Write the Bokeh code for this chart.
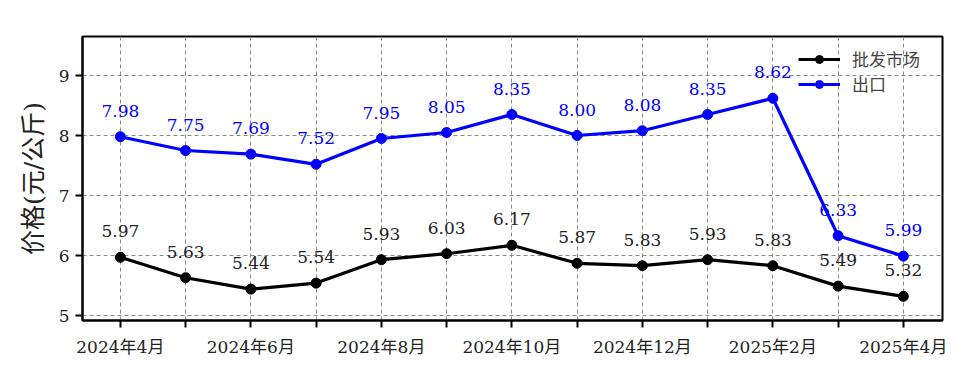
from bokeh.plotting import figure
from bokeh.models import FixedTicker, ColumnDataSource, Legend, LegendItem, Range1d
from bokeh.embed import file_html
from bokeh.resources import INLINE
from bokeh.core.properties import value

months = ["2024年4月", "2024年5月", "2024年6月", "2024年7月", "2024年8月", "2024年9月", "2024年10月",
          "2024年11月", "2024年12月", "2025年1月", "2025年2月", "2025年3月", "2025年4月"]
wholesale = [5.97, 5.63, 5.44, 5.54, 5.93, 6.03, 6.17, 5.87, 5.83, 5.93, 5.83, 5.49, 5.32]
export = [7.98, 7.75, 7.69, 7.52, 7.95, 8.05, 8.35, 8.00, 8.08, 8.35, 8.62, 6.33, 5.99]
series_names = ["批发市场", "出口"]
y_ticks = [5, 6, 7, 8, 9]

FONT = "'DejaVu Serif', 'Noto Sans CJK SC'"

x = list(range(len(months)))
p = figure(width=960, height=368, output_backend="svg", toolbar_location=None,
           x_range=Range1d(-0.58, 12.6), y_range=Range1d(4.917, 9.65),
           min_border_left=82, min_border_right=18, min_border_top=36, min_border_bottom=48)

src_w = ColumnDataSource(dict(x=x, y=wholesale, t=["%.2f" % v for v in wholesale]))
src_e = ColumnDataSource(dict(x=x, y=export, t=["%.2f" % v for v in export]))

lw = p.line("x", "y", source=src_w, line_color="black", line_width=3.2)
cw = p.scatter("x", "y", source=src_w, size=10, color="black")
le = p.line("x", "y", source=src_e, line_color="blue", line_width=3.2)
ce = p.scatter("x", "y", source=src_e, size=10, color="blue")

p.text("x", "y", text="t", source=src_w, text_align="center", text_baseline="alphabetic",
       y_offset=-26, text_font=value(FONT), text_font_size="17px", text_color="#222222")
p.text("x", "y", text="t", source=src_e, text_align="center", text_baseline="alphabetic",
       y_offset=-26, text_font=value(FONT), text_font_size="17px", text_color="blue")

p.xaxis.ticker = FixedTicker(ticks=x)
p.xaxis.major_label_overrides = {i: (months[i] if i % 2 == 0 else "") for i in x}
p.yaxis.ticker = FixedTicker(ticks=y_ticks)
p.xaxis.minor_tick_line_color = None
p.yaxis.minor_tick_line_color = None
for ax in (p.xaxis, p.yaxis):
    ax.major_label_text_font = FONT
    ax.major_label_text_font_size = "17px"
    ax.major_label_text_color = "#222222"
    ax.axis_line_width = 2
    ax.axis_line_color = "black"
    ax.major_tick_line_width = 2
    ax.major_tick_out = 7
    ax.major_tick_in = 0
    ax.major_label_standoff = 6
p.xaxis.major_label_standoff = 9
p.yaxis.axis_label = "价格(元/公斤)"
p.yaxis.axis_label_text_font = FONT
p.yaxis.axis_label_text_font_size = "25px"
p.yaxis.axis_label_text_font_style = "normal"
p.yaxis.axis_label_text_color = "#222222"
p.yaxis.axis_label_standoff = 8

p.xgrid.ticker = FixedTicker(ticks=x)
for g in (p.xgrid, p.ygrid):
    g.grid_line_color = "#888888"
    g.grid_line_dash = "4 3"
    g.grid_line_width = 1

p.outline_line_color = "black"
p.outline_line_width = 2
p.outline_line_alpha = 1

legend = Legend(items=[LegendItem(label=series_names[0], renderers=[lw, cw]),
                       LegendItem(label=series_names[1], renderers=[le, ce])],
                location=(716, 224), border_line_color=None, background_fill_alpha=0,
                label_text_font=FONT, label_text_font_size="17px", glyph_width=42,
                label_standoff=12, spacing=0, margin=0, padding=0)
p.add_layout(legend)

open("out.html", "w").write(file_html(p, INLINE))
